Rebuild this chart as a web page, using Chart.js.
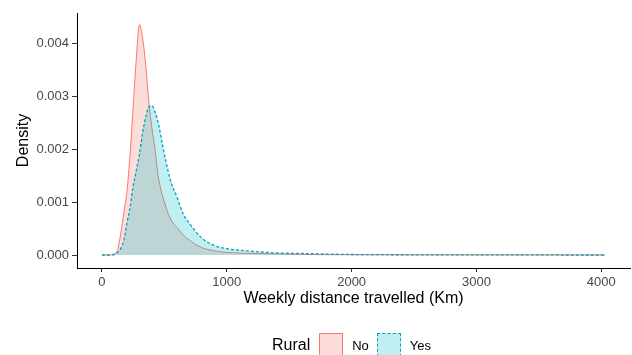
<!DOCTYPE html>
<html>
<head>
<meta charset="utf-8">
<script src="https://cdn.jsdelivr.net/npm/chart.js@4"></script>
<style>
  body { margin: 0; background: #fff; font-family: "Liberation Sans", Arial, sans-serif; }
  #wrap { position: relative; width: 632px; height: 355px; overflow: hidden; }
  #legend { position: absolute; left: 272px; top: 333px; height: 24px; display: flex; align-items: center; white-space: nowrap; }
  #legend .title { font-size: 16px; color: #000; margin-right: 9px; }
  #legend .box { width: 22px; height: 22px; box-sizing: content-box; }
  #legend .lab { font-size: 13px; color: #000; margin: 0 8px 0 9px; }
</style>
</head>
<body>
<div id="wrap">
  <canvas id="densityChart" width="632" height="355"></canvas>
  <div id="legend">
    <span class="title">Rural</span>
    <span class="box" style="background: rgba(248,118,109,0.25); border: 1px solid #F8766D;"></span>
    <span class="lab">No</span>
    <span class="box" style="background: rgba(0,191,196,0.25); border: 1px dashed #00A5C0;"></span>
    <span class="lab">Yes</span>
  </div>
</div>
<script>
// Density curves
const distances = [0, 50, 100, 125, 150, 175, 200, 225, 250, 275, 300, 325, 350, 375, 400, 425, 450, 500, 550, 600, 650, 700, 800, 900, 1000, 1200, 1400, 1600, 2000, 3000, 4030];
const densNo =    [0, 0, 0.00002, 0.0001, 0.0004, 0.0008, 0.0012, 0.0019, 0.0028, 0.0037, 0.00435, 0.0041, 0.0036, 0.0029, 0.0024, 0.002, 0.0015, 0.001, 0.00068, 0.00052, 0.00038, 0.00028, 0.00014, 0.00008, 0.00005, 0.00003, 0.00002, 0.00001, 0.000005, 0.000002, 0];
const densYes =   [0, 0, 0.00001, 0.00005, 0.00012, 0.00028, 0.0006, 0.0009, 0.0013, 0.0016, 0.0019, 0.0023, 0.0026, 0.0028, 0.00282, 0.0027, 0.0025, 0.0019, 0.0014, 0.0011, 0.00078, 0.0006, 0.00032, 0.00018, 0.00012, 0.00007, 0.00004, 0.00003, 0.00001, 0.000003, 0];
const xTickValues = [0, 1000, 2000, 3000, 4000];
const yTickValues = [0, 0.001, 0.002, 0.003, 0.004];

const toPoints = vals => distances.map((d, i) => ({ x: d, y: vals[i] }));

const tickFont = { family: '"Liberation Sans", Arial, sans-serif', size: 13 };
const titleFont = { family: '"Liberation Sans", Arial, sans-serif', size: 16 };

new Chart(document.getElementById('densityChart'), {
  type: 'line',
  data: {
    datasets: [{
      label: 'No',
      data: toPoints(densNo),
      borderColor: '#F8766D',
      backgroundColor: 'rgba(248,118,109,0.25)',
      borderWidth: 1,
      fill: 'origin',
      pointRadius: 0,
      cubicInterpolationMode: 'monotone',
      order: 2
    }, {
      label: 'Yes',
      data: toPoints(densYes),
      borderColor: '#00A5C0',
      backgroundColor: 'rgba(0,191,196,0.25)',
      borderWidth: 1.3,
      borderDash: [3, 2],
      fill: 'origin',
      pointRadius: 0,
      cubicInterpolationMode: 'monotone',
      order: 1
    }]
  },
  options: {
    responsive: false,
    animation: false,
    layout: {
      padding: { top: 13, right: 2, bottom: 43, left: 10 }
    },
    plugins: {
      legend: { display: false },
      tooltip: { enabled: false }
    },
    scales: {
      x: {
        type: 'linear',
        min: -200,
        max: 4230,
        afterBuildTicks: axis => { axis.ticks = xTickValues.map(v => ({ value: v })); },
        afterFit: axis => { axis.height = 44; },
        ticks: { font: tickFont, color: '#474750', padding: 3, maxRotation: 0, callback: v => String(v) },
        grid: { display: true, drawOnChartArea: false, drawTicks: true, tickLength: 4, color: '#333' },
        border: { display: true, color: '#000', width: 1 },
        title: { display: true, text: 'Weekly distance travelled (Km)', font: titleFont, color: '#000', padding: { top: 4, bottom: 4 } }
      },
      y: {
        type: 'linear',
        min: -0.000245,
        max: 0.00457,
        afterBuildTicks: axis => { axis.ticks = yTickValues.map(v => ({ value: v })); },
        afterFit: axis => { axis.width = 67; },
        ticks: {
          font: tickFont,
          color: '#474750',
          padding: 3,
          callback: v => v.toFixed(3)
        },
        grid: { display: true, drawOnChartArea: false, drawTicks: true, tickLength: 5, color: '#333' },
        border: { display: true, color: '#000', width: 1 },
        title: { display: true, text: 'Density', font: titleFont, color: '#000', padding: { top: 4, bottom: 4 } }
      }
    }
  }
});
</script>
</body>
</html>
